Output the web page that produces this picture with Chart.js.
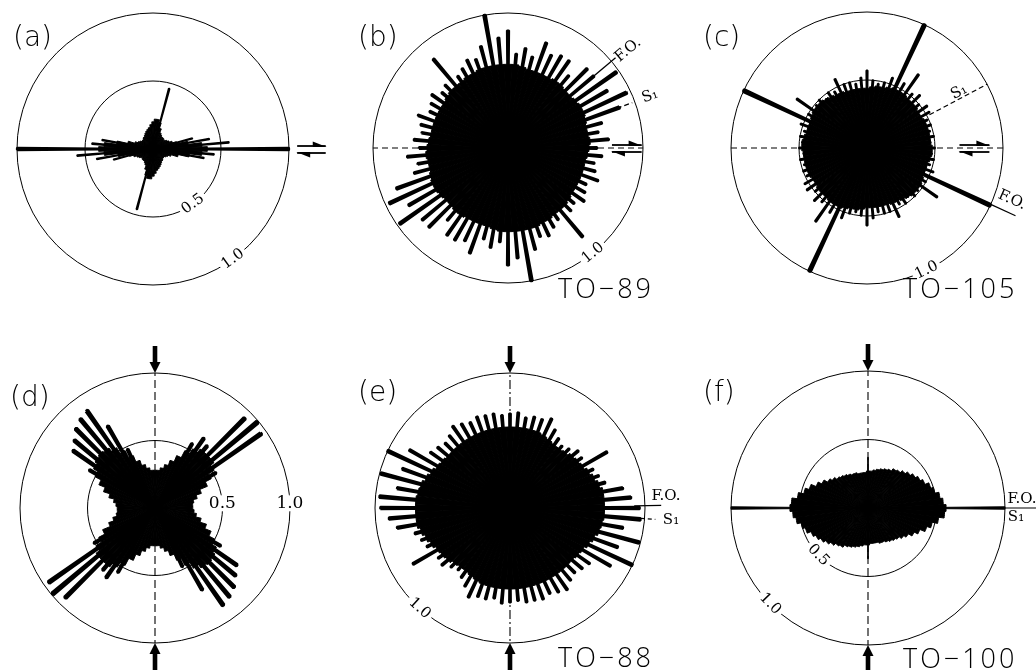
<!DOCTYPE html>
<html>
<head>
<meta charset="utf-8">
<script src="https://cdn.jsdelivr.net/npm/chart.js@4.4.1/dist/chart.umd.min.js"></script>
<style>
  html, body { margin: 0; padding: 0; background: #fff; }
  body { width: 1036px; height: 670px; position: relative; overflow: hidden; }
  canvas { position: absolute; }
</style>
</head>
<body>
<canvas id="ca" width="350" height="350"></canvas>
<canvas id="cb" width="350" height="350"></canvas>
<canvas id="cc" width="350" height="350"></canvas>
<canvas id="cd" width="350" height="350"></canvas>
<canvas id="ce" width="350" height="350"></canvas>
<canvas id="cf" width="350" height="350"></canvas>
<script>
// bin centres in degrees clockwise from north; orientations are axial,
// so the 180-355 half of every rose repeats these values
const binAngles = [0,5,10,15,20,25,30,35,40,45,50,55,60,65,70,75,80,85,
                   90,95,100,105,110,115,120,125,130,135,140,145,150,155,160,165,170,175];
const radialTicks = [0.5, 1.0];

// (a)
const coreA  = [0.2,0.22,0.22,0.2,0.16,0.13,0.12,0.11,0.11,0.11,0.1,0.11,0.12,0.13,0.15,0.18,0.26,0.36,
                0.4,0.36,0.27,0.19,0.14,0.12,0.11,0.1,0.1,0.1,0.11,0.11,0.12,0.13,0.14,0.15,0.16,0.18];
const spikeA = [0,0,0,0.46,0,0,0,0,0,0,0,0,0,0,0,0.3,0.42,0.56,
                1.0,0.45,0.38,0,0,0,0,0,0,0,0,0,0,0,0,0,0,0];
// (b) TO-89
const coreB  = [0.62,0.62,0.61,0.6,0.6,0.6,0.6,0.61,0.61,0.6,0.6,0.61,0.62,0.62,0.61,0.6,0.6,0.61,
                0.6,0.59,0.58,0.58,0.58,0.58,0.58,0.58,0.59,0.6,0.6,0.6,0.61,0.61,0.62,0.62,0.62,0.62];
const spikeB = [0.87,0.7,0.75,0.7,0.83,0.76,0.79,0.79,0.7,0.83,0.83,0.98,0.85,0.97,0.88,0.72,0.68,0.75,
                0.66,0.7,0.65,0.67,0.71,0.64,0.66,0.69,0.64,0.66,0.86,0.65,0.68,0.72,0.7,0.78,1.0,0.82];
// (c) TO-105
const coreC  = [0.44,0.45,0.46,0.46,0.47,0.48,0.48,0.48,0.47,0.47,0.47,0.46,0.46,0.47,0.47,0.47,0.47,0.47,
                0.48,0.48,0.47,0.46,0.46,0.46,0.47,0.48,0.48,0.48,0.47,0.46,0.45,0.45,0.44,0.44,0.44,0.44];
const spikeC = [0.57,0.5,0.48,0.5,0.55,1.0,0.55,0.66,0.52,0.55,0.5,0.54,0.53,0.49,0.5,0.48,0.5,0.47,
                0.5,0.48,0.5,0.48,0.52,1.0,0.5,0.63,0.49,0.5,0.47,0.5,0.48,0.56,0.5,0.5,0.48,0.52];
// (d)
const coreD  = [0.28,0.28,0.3,0.33,0.37,0.42,0.48,0.52,0.55,0.55,0.55,0.52,0.47,0.42,0.36,0.32,0.29,0.28,
                0.28,0.29,0.31,0.35,0.4,0.45,0.5,0.54,0.56,0.57,0.56,0.53,0.48,0.42,0.37,0.33,0.3,0.28];
const spikeD = [0,0,0,0,0,0,0.55,0.63,0.6,0.94,0.99,0.96,0.52,0,0,0,0,0,
                0,0,0,0,0,0,0.56,0.74,0.78,0.83,0.86,0.88,0.7,0.48,0,0,0,0];
// (e) TO-88
const coreE  = [0.6,0.6,0.6,0.6,0.6,0.59,0.58,0.57,0.57,0.58,0.6,0.61,0.62,0.64,0.66,0.68,0.7,0.7,
                0.7,0.7,0.69,0.68,0.66,0.64,0.62,0.61,0.6,0.6,0.6,0.6,0.6,0.6,0.6,0.6,0.6,0.6];
const spikeE = [0.7,0.71,0.68,0.7,0.7,0.73,0.67,0.63,0.6,0.62,0.66,0.65,0.83,0.68,0.7,0.73,0.85,0.9,
                0.96,0.97,0.85,0.99,0.85,1.0,0.86,0.72,0.7,0.68,0.7,0.74,0.72,0.7,0.72,0.71,0.71,0.69];
// (f) TO-100
const coreF  = [0.27,0.27,0.28,0.29,0.3,0.31,0.32,0.34,0.35,0.37,0.39,0.41,0.43,0.45,0.48,0.5,0.53,0.55,
                0.57,0.56,0.52,0.48,0.45,0.41,0.38,0.35,0.33,0.31,0.3,0.29,0.28,0.27,0.27,0.26,0.26,0.26];
const spikeF = [0.37,0,0,0,0,0,0,0,0,0,0,0,0,0,0,0,0,0,
                1.0,0,0,0,0,0,0,0,0,0,0,0,0,0,0,0,0,0];

const SERIF = '15px "DejaVu Serif", "Liberation Serif", serif';

// position on the rose: angle clockwise from north, value on the r scale
function polar(s, ang, v) {
    const a = ang * Math.PI / 180;
    const d = s.getDistanceFromCenterForValue(v);
    return [s.xCenter + d * Math.sin(a), s.yCenter - d * Math.cos(a)];
}

function ray(ctx, s, ang, v0, v1, dash, w) {
    const p0 = polar(s, ang, v0), p1 = polar(s, ang, v1);
    ctx.save();
    ctx.setLineDash(dash || []);
    ctx.lineWidth = w || 1.2;
    ctx.strokeStyle = '#000';
    ctx.beginPath();
    ctx.moveTo(p0[0], p0[1]);
    ctx.lineTo(p1[0], p1[1]);
    ctx.stroke();
    ctx.restore();
}

function text(ctx, str, x, y, rot, font, backdrop) {
    ctx.save();
    ctx.translate(x, y);
    ctx.rotate(rot * Math.PI / 180);
    ctx.font = font;
    ctx.textAlign = 'center';
    ctx.textBaseline = 'middle';
    if (backdrop) {
        const w = ctx.measureText(str).width;
        ctx.fillStyle = '#fff';
        ctx.fillRect(-w / 2 - 3, -8, w + 6, 16);
    }
    ctx.fillStyle = '#000';
    ctx.fillText(str, 0, 0);
    ctx.restore();
}

// pair of half arrows (shear sense) on the E-W line
function harpoons(ctx, s, f0, f1) {
    const cx = s.xCenter, cy = s.yCenter, x0 = cx + f0 * s.drawingArea, x1 = cx + f1 * s.drawingArea;
    ctx.save();
    ctx.fillStyle = ctx.strokeStyle = '#000';
    ctx.lineWidth = 1.8;
    ctx.beginPath(); ctx.moveTo(x0, cy - 3); ctx.lineTo(x1, cy - 3); ctx.stroke();
    ctx.beginPath(); ctx.moveTo(x1 + 1, cy - 2); ctx.lineTo(x1 - 13, cy - 7.5); ctx.lineTo(x1 - 13, cy - 2); ctx.fill();
    ctx.beginPath(); ctx.moveTo(x0, cy + 4); ctx.lineTo(x1, cy + 4); ctx.stroke();
    ctx.beginPath(); ctx.moveTo(x0 - 1, cy + 3); ctx.lineTo(x0 + 13, cy + 8.5); ctx.lineTo(x0 + 13, cy + 3); ctx.fill();
    ctx.restore();
}

// N-S compression arrows outside the outer circle
function bigArrows(ctx, s) {
    const cx = s.xCenter, cy = s.yCenter, R = s.drawingArea;
    ctx.save();
    ctx.fillStyle = '#000';
    [-1, 1].forEach(k => {
        const y0 = cy + k * R;
        ctx.fillRect(cx - 2.3, Math.min(y0 + k * 8, y0 + k * 27), 4.6, 19);
        ctx.beginPath();
        ctx.moveTo(cx - 5.5, y0 + k * 11);
        ctx.lineTo(cx + 5.5, y0 + k * 11);
        ctx.lineTo(cx, y0);
        ctx.closePath();
        ctx.fill();
    });
    ctx.restore();
}

function decoPlugin(p) {
    return {
        id: 'deco',
        beforeDatasetsDraw(chart) {
            const s = chart.scales.r, ctx = chart.ctx;
            (p.axes || []).forEach(a => {
                ray(ctx, s, a.ang, 0, 1, a.dash, 1.1);
                ray(ctx, s, a.ang + 180, 0, 1, a.dash, 1.1);
            });
        },
        afterDatasetsDraw(chart) {
            const s = chart.scales.r, ctx = chart.ctx;
            const cx = s.xCenter, cy = s.yCenter;
            (p.rays || []).forEach(r => ray(ctx, s, r.ang, r.v0, r.v1, r.dash, r.w));
            (p.ticks || []).forEach(t => {
                const pt = polar(s, t.ang, radialTicks[t.i]);
                text(ctx, radialTicks[t.i].toFixed(1), pt[0], pt[1], t.rot, t.font || SERIF, true);
            });
            (p.notes || []).forEach(n => text(ctx, n.str, cx + n.dx, cy + n.dy, n.rot || 0, SERIF, false));
            if (p.harpoons) harpoons(ctx, s, p.harpoons[0], p.harpoons[1]);
            if (p.arrows) bigArrows(ctx, s);
            ctx.save();
            ctx.fillStyle = '#000';
            ctx.textAlign = 'left';
            ctx.textBaseline = 'alphabetic';
            ctx.font = '200 28px "DejaVu Sans", sans-serif';
            ctx.fillText(p.name, cx + p.namePos[0], cy + p.namePos[1]);
            if (p.tag) {
                ctx.font = '300 27px "Open Sans", "DejaVu Sans", sans-serif';
                ctx.letterSpacing = '3px';
                ctx.fillText(p.tag, cx + p.tagPos[0], cy + p.tagPos[1]);
            }
            ctx.restore();
        }
    };
}

function makeRose(id, core, spikes, p) {
    const cv = document.getElementById(id);
    cv.style.left = (p.cx - 175) + 'px';
    cv.style.top = (p.cy - 175) + 'px';

    const coreFull = core.concat(core);
    // every 5 degree bin becomes five 1 degree slots, the bar sits in the middle one
    const spikeFull = [];
    spikes.concat(spikes).forEach(v => spikeFull.push(0, 0, v, 0, 0));
    const labels = binAngles.concat(binAngles.map(a => a + 180)).map(a => a + '°');

    new Chart(cv, {
        type: 'polarArea',
        data: {
            labels: labels,
            datasets: [
                {
                    data: spikeFull,
                    backgroundColor: '#000',
                    borderColor: '#000',
                    borderWidth: c => (c.raw > 0 ? (c.raw >= 0.9 ? p.bigBar : p.bar) : 0)
                },
                {
                    data: coreFull,
                    backgroundColor: '#000',
                    borderColor: '#000',
                    borderWidth: 1
                }
            ]
        },
        options: {
            responsive: false,
            animation: false,
            events: [],
            layout: { padding: 175 - p.R },
            plugins: { legend: { display: false }, tooltip: { enabled: false } },
            scales: {
                r: {
                    min: 0,
                    max: 1,
                    startAngle: -2.5,
                    ticks: { display: false, stepSize: 0.5 },
                    grid: { color: '#000', lineWidth: 1 },
                    angleLines: { display: false },
                    pointLabels: { display: false }
                }
            }
        },
        plugins: [decoPlugin(p)]
    });
}

makeRose('ca', coreA, spikeA, {
    cx: 153, cy: 149, R: 136, bar: 1.6, bigBar: 2.2,
    name: '(a)', namePos: [-140, -103],
    ticks: [{ i: 0, ang: 144, rot: -36 }, { i: 1, ang: 144, rot: -36 }],
    harpoons: [1.06, 1.27]
});

makeRose('cb', coreB, spikeB, {
    cx: 508, cy: 148, R: 135, bar: 2.2, bigBar: 2.4,
    name: '(b)', namePos: [-150, -102], tag: 'TO−89', tagPos: [50, 150],
    axes: [{ ang: 90, dash: [6, 4] }],
    ticks: [{ i: 1, ang: 141, rot: -39 }],
    rays: [{ ang: 50, v0: 0.6, v1: 1.04, w: 1.3 }, { ang: 70, v0: 0.62, v1: 0.98, dash: [5, 3], w: 1.3 }],
    notes: [{ str: 'F.O.', dx: 120, dy: -98, rot: -40 }, { str: 'S₁', dx: 142, dy: -52, rot: -20 }],
    harpoons: [0.77, 0.99]
});

makeRose('cc', coreC, spikeC, {
    cx: 867, cy: 148, R: 136, bar: 1.8, bigBar: 2.8,
    name: '(c)', namePos: [-164, -102], tag: 'TO−105', tagPos: [36, 150],
    axes: [{ ang: 90, dash: [6, 4] }],
    ticks: [{ i: 1, ang: 154, rot: -26 }],
    rays: [{ ang: 114.5, v0: 1.0, v1: 1.2, w: 1.2 }, { ang: 62, v0: 0.52, v1: 1.0, dash: [5, 3], w: 1.2 }],
    notes: [{ str: 'F.O.', dx: 145, dy: 52, rot: 24 }, { str: 'S₁', dx: 92, dy: -56, rot: -28 }],
    harpoons: [0.68, 0.9]
});

makeRose('cd', coreD, spikeD, {
    cx: 155, cy: 508, R: 135, bar: 3, bigBar: 3,
    name: '(d)', namePos: [-145, -102],
    axes: [{ ang: 0, dash: [8, 4] }],
    ticks: [{ i: 0, ang: 86, rot: 0, font: '17px "DejaVu Serif", serif' },
            { i: 1, ang: 88, rot: 0, font: '17px "DejaVu Serif", serif' }],
    arrows: true
});

makeRose('ce', coreE, spikeE, {
    cx: 510, cy: 508, R: 135, bar: 2.2, bigBar: 2.4,
    name: '(e)', namePos: [-152, -107], tag: 'TO−88', tagPos: [48, 159],
    axes: [{ ang: 0, dash: [9, 3, 2, 3] }],
    ticks: [{ i: 1, ang: 222, rot: 42 }],
    rays: [{ ang: 89, v0: 0.92, v1: 1.12, w: 1.3 }, { ang: 94.5, v0: 0.92, v1: 1.08, dash: [4, 3], w: 1.2 }],
    notes: [{ str: 'F.O.', dx: 156, dy: -12 }, { str: 'S₁', dx: 161, dy: 12 }],
    arrows: true
});

makeRose('cf', coreF, spikeF, {
    cx: 868, cy: 508, R: 137, bar: 0.9, bigBar: 1.0,
    name: '(f)', namePos: [-165, -107], tag: 'TO−100', tagPos: [35, 160],
    axes: [{ ang: 0, dash: [8, 4] }],
    ticks: [{ i: 0, ang: 226.5, rot: 46.5 }, { i: 1, ang: 225.6, rot: 45.6 }],
    rays: [{ ang: 90, v0: 1.0, v1: 1.26, w: 1.2 }],
    notes: [{ str: 'F.O.', dx: 154, dy: -9 }, { str: 'S₁', dx: 148, dy: 9 }],
    arrows: true
});
</script>
</body>
</html>
